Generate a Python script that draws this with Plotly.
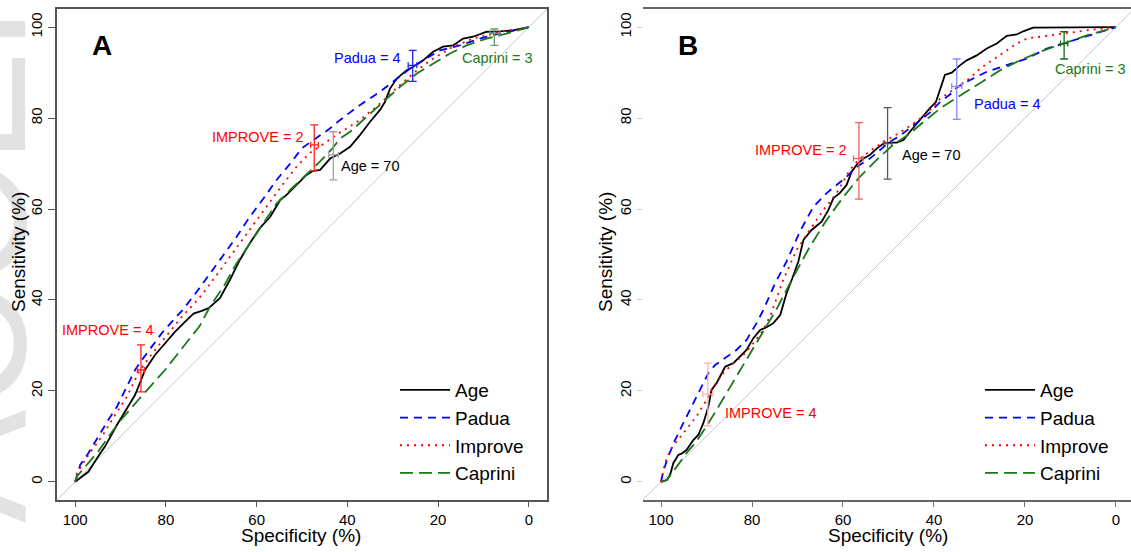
import plotly.graph_objects as go

# ---------------- data: specificity (%) / sensitivity (%) ----------------
# panel A
a_age_spec = [100, 97.1, 94.9, 93.4, 90.8, 88.3, 86.8, 85.3, 84.6, 82.4, 80.2, 78.0, 75.8, 73.9, 72.1, 70.6,
              69.2, 68.1, 65.9, 63.7, 61.5, 59.3, 57.0, 54.8, 53.4, 51.2, 49.0, 47.5, 46.0, 43.8, 42.4, 41.6,
              39.4, 37.2, 35.0, 32.8, 31.7, 30.6, 29.1, 27.0, 25.5, 23.3, 21.1, 18.9, 16.7, 14.5, 12.3, 9.3,
              6.4, 3.5, 0]
a_age_sens = [0, 2.2, 5.6, 7.8, 12.5, 16.5, 19.1, 22.8, 24.6, 27.9, 30.5, 33.0, 35.2, 37.0, 37.6, 38.2,
              39.4, 40.4, 44.4, 48.8, 52.5, 55.8, 58.3, 62.0, 63.1, 65.3, 67.5, 68.4, 68.6, 71.1, 71.9, 72.2,
              73.7, 76.3, 79.2, 81.8, 83.6, 86.5, 88.7, 90.5, 91.3, 92.7, 94.6, 95.7, 96.0, 97.5, 97.9, 99.0,
              99.1, 99.3, 100]

a_padua_spec = [100, 99.6, 98.9, 97.1, 94.9, 92.7, 90.8, 89.0, 86.8, 85.3, 83.1, 80.9, 78.7, 76.3, 73.2,
                70.3, 67.3, 64.4, 61.5, 58.5, 55.6, 52.6, 50.0, 47.3, 44.0, 41.6, 37.2, 32.8, 28.4, 26.2,
                23.3, 19.6, 15.2, 10.8, 6.4, 0]
a_padua_sens = [0, 1.2, 3.7, 6.3, 10.0, 13.6, 16.5, 20.2, 24.6, 26.8, 29.7, 32.7, 35.2, 37.8, 41.8,
                45.9, 49.9, 53.9, 58.3, 62.3, 66.4, 70.0, 73.4, 75.3, 77.6, 79.6, 82.9, 85.8, 89.1, 90.9,
                92.7, 94.9, 96.0, 97.5, 98.6, 100]

a_improve_spec = [100, 99.6, 97.1, 94.1, 91.2, 88.6, 86.1, 84.6, 82.4, 79.4, 76.5, 74.2, 71.7, 68.8, 65.9,
                  62.9, 60.0, 57.0, 54.1, 51.2, 48.2, 46.0, 42.0, 37.2, 32.8, 28.4, 24.7, 21.1, 16.7, 12.3,
                  6.4, 0]
a_improve_sens = [0, 1.9, 5.9, 10.0, 14.7, 18.7, 23.9, 26.1, 29.0, 32.7, 36.3, 38.7, 41.6, 45.5, 49.5,
                  53.6, 57.6, 61.6, 65.6, 69.3, 72.4, 73.8, 76.6, 79.6, 83.2, 87.3, 90.5, 93.1, 95.7, 97.5,
                  99.0, 100]

a_caprini_spec = [100, 99.6, 94.9, 90.5, 86.1, 80.2, 75.0, 72.6, 70.3, 67.3, 64.4, 61.5, 58.5, 55.6, 52.6,
                  50.0, 46.5, 43.5, 41.6, 39.4, 35.8, 32.1, 28.4, 24.7, 21.1, 17.4, 13.7, 9.3, 4.9, 0]
a_caprini_sens = [0, 1.2, 6.7, 12.9, 18.0, 24.6, 31.2, 34.2, 38.5, 42.9, 48.1, 52.5, 56.9, 61.2, 64.2,
                  66.6, 70.0, 73.1, 75.5, 77.0, 80.3, 83.6, 86.9, 89.8, 92.0, 94.2, 96.0, 97.5, 98.6, 100]

# panel B
b_age_spec = [100, 98.7, 98.0, 97.3, 96.2, 95.5, 94.4, 92.9, 91.8, 90.7, 89.6, 88.9, 87.8, 85.9, 84.1,
              82.6, 81.2, 79.7, 78.2, 76.8, 75.3, 73.8, 72.4, 71.2, 69.8, 68.7, 66.9, 64.7, 63.2, 62.1,
              60.7, 59.2, 58.1, 57.0, 55.5, 54.1, 52.6, 51.1, 49.7, 48.2, 46.7, 45.3, 43.8, 42.3, 40.9,
              39.6, 38.5, 37.6, 36.1, 34.3, 32.8, 30.6, 28.4, 26.2, 24.0, 21.8, 20.4, 18.2, 0]
b_age_sens = [0, 0.4, 1.5, 4.1, 5.9, 6.2, 7.0, 9.2, 10.3, 12.9, 16.5, 20.2, 21.7, 25.3, 26.1,
              27.5, 29.0, 31.6, 33.4, 34.0, 34.9, 36.7, 41.5, 44.6, 48.5, 53.2, 55.4, 57.2, 59.8, 62.4,
              63.5, 65.3, 68.2, 69.7, 71.1, 71.9, 73.3, 74.4, 74.6, 74.6, 75.2, 77.0, 78.8, 80.5, 82.2,
              83.5, 86.8, 89.5, 90.0, 91.6, 92.7, 93.8, 95.3, 96.4, 98.1, 98.4, 99.1, 99.9, 100]

b_padua_spec = [100, 99.5, 98.4, 96.9, 95.1, 93.3, 91.4, 89.6, 88.1, 85.6, 83.4, 81.2, 79.0, 77.5, 75.0,
                72.4, 69.5, 66.5, 63.6, 61.4, 59.2, 57.7, 56.3, 54.1, 51.9, 49.7, 47.5, 45.3, 43.1, 40.9,
                38.7, 36.5, 35.0, 32.8, 28.4, 24.0, 19.6, 15.2, 11.6, 6.4, 0]
b_padua_sens = [0, 2.3, 5.6, 9.2, 12.9, 16.5, 20.2, 23.9, 25.7, 27.5, 29.0, 31.2, 34.9, 37.8, 43.5,
                48.5, 55.0, 60.5, 63.5, 65.3, 67.1, 68.6, 69.7, 71.1, 73.0, 74.8, 76.1, 77.8, 79.6, 81.2,
                83.5, 85.2, 86.7, 88.0, 90.2, 91.6, 93.1, 95.3, 96.4, 98.1, 100]

b_improve_spec = [100, 99.1, 98.0, 96.5, 94.4, 92.2, 90.0, 88.5, 86.3, 84.1, 81.9, 79.7, 77.5, 75.8, 73.1,
                  70.2, 67.3, 64.3, 61.4, 58.5, 56.3, 53.3, 50.4, 47.5, 44.5, 41.6, 38.7, 35.8, 34.3, 32.1,
                  29.9, 25.5, 21.8, 19.6, 16.7, 12.3, 6.4, 0]
b_improve_sens = [0, 4.1, 7.0, 8.9, 11.4, 14.4, 18.0, 20.9, 23.9, 26.1, 27.9, 30.5, 33.4, 37.0, 44.5,
                  51.0, 55.4, 59.8, 63.5, 68.6, 71.1, 73.3, 75.2, 76.8, 78.8, 81.0, 84.2, 86.2, 87.3, 88.8,
                  90.9, 93.8, 96.4, 97.5, 97.9, 98.6, 99.3, 100]

b_caprini_spec = [100, 98.7, 96.5, 94.4, 92.2, 90.0, 87.8, 85.6, 83.4, 81.2, 79.0, 76.8, 74.6, 72.4, 70.9,
                  67.3, 63.6, 59.9, 56.3, 52.6, 49.0, 45.3, 42.3, 38.4, 34.3, 29.9, 25.5, 21.1, 16.7, 11.6,
                  6.4, 0]
b_caprini_sens = [0, 0.4, 3.4, 6.3, 8.9, 12.2, 15.8, 19.5, 23.1, 26.8, 30.5, 34.1, 38.0, 42.2, 45.1,
                  51.7, 57.6, 62.7, 67.1, 70.8, 74.1, 76.6, 79.2, 82.3, 84.9, 87.6, 90.5, 92.7, 94.6, 96.4,
                  98.2, 100]

# cut-off points with 95% CI
ci_labels = ["IMPROVE = 4", "IMPROVE = 2", "Age = 70", "Padua = 4", "Caprini = 3"]
a_ci_spec = [85.5, 47.3, 43.1, 25.6, 7.6]
a_ci_spec_lo = [84.7, 46.4, 42.0, 24.7, 6.4]
a_ci_spec_hi = [86.3, 48.1, 44.1, 26.6, 8.6]
a_ci_sens = [24.6, 74.1, 71.9, 91.6, 98.6]
a_ci_sens_lo = [19.8, 68.4, 66.4, 88.1, 96.0]
a_ci_sens_hi = [30.1, 78.5, 77.0, 94.9, 99.6]

b_ci_spec = [89.7, 56.5, 50.2, 35.0, 11.4]
b_ci_spec_lo = [88.6, 55.6, 49.3, 33.9, 10.6]
b_ci_spec_hi = [90.8, 57.7, 51.1, 36.1, 12.2]
b_ci_sens = [19.3, 71.1, 74.4, 87.0, 96.4]
b_ci_sens_lo = [12.3, 62.2, 66.6, 79.7, 93.0]
b_ci_sens_hi = [26.1, 79.0, 82.3, 93.0, 99.0]

series_names = ["Age", "Padua", "Improve", "Caprini"]

# ---------------- styling ----------------
FONT = "Liberation Sans, Arial, sans-serif"
W, H = 1131, 552
styles = {
    "Age": dict(color="black", dash="solid"),
    "Padua": dict(color="#0000ff", dash="8px,6px"),
    "Improve": dict(color="#ff0000", dash="2px,5px"),
    "Caprini": dict(color="#1a7a1a", dash="13px,6px"),
}
label_colors = ["#ff0000", "#ff0000", "black", "#0000ff", "#1a7a1a"]
a_bar_colors = ["#ff2020", "#ff2020", "#a0a0a0", "#2020ff", "#6f9a6f"]
b_bar_colors = ["#ffb0b0", "#f06060", "#555555", "#8a8aff", "#1a6a1a"]

fig = go.Figure()

panels = [
    ("x", "y", "legend", [(a_age_spec, a_age_sens), (a_padua_spec, a_padua_sens),
                          (a_improve_spec, a_improve_sens), (a_caprini_spec, a_caprini_sens)]),
    ("x2", "y2", "legend2", [(b_age_spec, b_age_sens), (b_padua_spec, b_padua_sens),
                             (b_improve_spec, b_improve_sens), (b_caprini_spec, b_caprini_sens)]),
]

for xa, ya, leg, curves in panels:
    for name, (sx, sy) in zip(series_names, curves):
        st = styles[name]
        fig.add_trace(go.Scatter(
            x=sx, y=sy, mode="lines", name=name, xaxis=xa, yaxis=ya, legend=leg,
            line=dict(color=st["color"], dash=st["dash"], width=1.8), hoverinfo="skip"))

ci_sets = [
    ("x", "y", a_ci_spec, a_ci_spec_lo, a_ci_spec_hi, a_ci_sens, a_ci_sens_lo, a_ci_sens_hi, a_bar_colors),
    ("x2", "y2", b_ci_spec, b_ci_spec_lo, b_ci_spec_hi, b_ci_sens, b_ci_sens_lo, b_ci_sens_hi, b_bar_colors),
]
for xa, ya, sp, sp_lo, sp_hi, se, se_lo, se_hi, cols in ci_sets:
    for i in range(len(sp)):
        fig.add_trace(go.Scatter(
            x=[sp[i]], y=[se[i]], mode="markers", xaxis=xa, yaxis=ya, showlegend=False,
            marker=dict(size=0.1, color=cols[i]),
            error_y=dict(type="data", symmetric=False, array=[se_hi[i] - se[i]],
                         arrayminus=[se[i] - se_lo[i]], color=cols[i], thickness=1.3, width=4),
            error_x=dict(type="data", symmetric=False, array=[sp_hi[i] - sp[i]],
                         arrayminus=[sp[i] - sp_lo[i]], color=cols[i], thickness=1.3, width=3),
            hoverinfo="skip"))

# text labels next to the cut-off points: (panel, index, spec, sens, anchor)
label_pos = [
    ("x", "y", 0, 92.9, 33.3, "center"), ("x", "y", 1, 49.3, 75.9, "right"),
    ("x", "y", 2, 41.8, 69.5, "left"), ("x", "y", 3, 27.7, 93.3, "right"),
    ("x", "y", 4, 15.2, 93.3, "left"),
    ("x2", "y2", 0, 86.3, 15.1, "left"), ("x2", "y2", 1, 58.8, 73.0, "right"),
    ("x2", "y2", 2, 47.5, 71.9, "left"), ("x2", "y2", 3, 31.7, 83.0, "left"),
    ("x2", "y2", 4, 13.8, 90.9, "left"),
]
annotations = []
# faint watermark on the left edge, only the foot of the letters shows
annotations.append(dict(x=-131 / W, y=(H - 525) / H, xref="paper", yref="paper", text="ACCEPTED ARTICLE",
                        xanchor="left", yanchor="bottom", textangle=-90, showarrow=False,
                        font=dict(family=FONT, size=170, color="#e2e2e2")))

for xa, ya, i, lx, ly, anc in label_pos:
    annotations.append(dict(x=lx, y=ly, xref=xa, yref=ya, text=ci_labels[i], showarrow=False,
                            xanchor=anc, yanchor="middle",
                            font=dict(family=FONT, size=14.5, color=label_colors[i])))

# panel letters
for xa, ya, letter in [("x", "y", "A"), ("x2", "y2", "B")]:
    annotations.append(dict(x=94.1, y=96, xref=xa, yref=ya, text="<b>%s</b>" % letter, showarrow=False,
                            xanchor="center", yanchor="middle",
                            font=dict(family=FONT, size=28, color="black")))

# axis titles
for cx in [301, 888]:
    annotations.append(dict(x=cx / W, y=(H - 535) / H, xref="paper", yref="paper", text="Specificity (%)",
                            xanchor="center", yanchor="middle", showarrow=False,
                            font=dict(family=FONT, size=19, color="black")))
for cx in [18, 605]:
    annotations.append(dict(x=cx / W, y=(H - 252) / H, xref="paper", yref="paper", text="Sensitivity (%)",
                            xanchor="center", yanchor="middle", textangle=-90, showarrow=False,
                            font=dict(family=FONT, size=19, color="black")))

# chance diagonal
shapes = []
for xa, ya in [("x", "y"), ("x2", "y2")]:
    shapes.append(dict(type="line", xref=xa, yref=ya, x0=104, y0=-4, x1=-4, y1=104,
                       line=dict(color="#c8c8c8", width=1), layer="below"))

ticks = [100, 80, 60, 40, 20, 0]
common_x = dict(tickvals=ticks, ticks="outside", ticklen=5, showgrid=False, zeroline=False, automargin=False,
                tickfont=dict(family=FONT, size=15, color="black"))
common_y = dict(tickvals=ticks, ticks="outside", ticklen=7, showgrid=False, zeroline=False, tickangle=-90,
                automargin=False, tickfont=dict(family=FONT, size=15, color="black"), range=[-4, 104])

fig.update_layout(
    width=W, height=H,
    margin=dict(l=0, r=0, t=0, b=0, autoexpand=False),
    paper_bgcolor="white", plot_bgcolor="white",
    font=dict(family=FONT),
    xaxis=dict(common_x, domain=[57 / W, 547 / W], range=[104, -4], anchor="y",
               showline=True, mirror=True, linecolor="#555555", linewidth=1.5, tickcolor="#555555"),
    yaxis=dict(common_y, domain=[(H - 500) / H, (H - 9) / H], anchor="x",
               showline=True, mirror=True, linecolor="#555555", linewidth=1.5, tickcolor="#555555"),
    xaxis2=dict(common_x, domain=[642.8 / W, 1.0], range=[104, -3.3], anchor="y2",
                showline=True, mirror=True, linecolor="#666666", linewidth=1.8, tickcolor="#777777"),
    yaxis2=dict(common_y, domain=[(H - 500) / H, (H - 9) / H], anchor="x2",
                showline=False, ticklen=5, tickcolor="#cccccc"),
    legend=dict(x=395 / W, y=(H - 371) / H, xanchor="left", yanchor="top", bgcolor="rgba(0,0,0,0)",
                font=dict(family=FONT, size=19, color="black"), itemwidth=50),
    legend2=dict(x=980 / W, y=(H - 371) / H, xanchor="left", yanchor="top", bgcolor="rgba(0,0,0,0)",
                 font=dict(family=FONT, size=19, color="black"), itemwidth=50),
    annotations=annotations,
    shapes=shapes,
)

# the page's default body margin would shift the figure by 8px
fig.write_html("out.html", config={"displayModeBar": False},
               post_script="document.body.style.margin='0';")
